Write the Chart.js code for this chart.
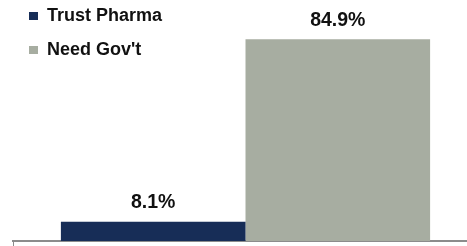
<!DOCTYPE html>
<html>
<head>
<meta charset="utf-8">
<script src="https://cdn.jsdelivr.net/npm/chart.js@4/dist/chart.umd.min.js"></script>
<style>
  html, body { margin: 0; padding: 0; background: #ffffff; overflow: hidden; width: 467px; height: 246px; }
  #wrap { position: relative; width: 478px; height: 246px; }
</style>
</head>
<body>
<div id="wrap"><canvas id="c"></canvas></div>
<script>
// ---- data ----
const categories = [''];
const seriesNames = ['Trust Pharma', "Need Gov't"];
const trustPharma = [8.1];
const needGov = [84.9];
const seriesColors = ['#172d57', '#a7ada1'];

Chart.defaults.font.family = "'Liberation Sans', Arial, sans-serif";

const valueLabels = {
  id: 'valueLabels',
  afterDatasetsDraw(chart) {
    const ctx = chart.ctx;
    chart.data.datasets.forEach((ds, i) => {
      const meta = chart.getDatasetMeta(i);
      meta.data.forEach((bar, j) => {
        const v = ds.data[j];
        if (v == null) return;
        ctx.save();
        ctx.font = "bold 19.5px 'Liberation Sans', Arial, sans-serif";
        ctx.fillStyle = '#111111';
        ctx.textAlign = 'center';
        ctx.textBaseline = 'alphabetic';
        ctx.fillText(v.toFixed(1) + '%', bar.x, bar.y - 13.5);
        ctx.restore();
      });
    });
  }
};

new Chart(document.getElementById('c'), {
  type: 'bar',
  data: {
    labels: categories,
    datasets: [
      { label: seriesNames[0], data: trustPharma, backgroundColor: seriesColors[0], borderWidth: 0 },
      { label: seriesNames[1], data: needGov, backgroundColor: seriesColors[1], borderWidth: 0 }
    ]
  },
  options: {
    responsive: true,
    maintainAspectRatio: false,
    animation: false,
    layout: { padding: { left: 13, right: 0, top: 0, bottom: 0 } },
    datasets: { bar: { categoryPercentage: 0.794, barPercentage: 1.0 } },
    scales: {
      x: {
        z: 1,
        ticks: { display: false },
        grid: { offset: true, drawOnChartArea: false, drawTicks: true, tickLength: 5, color: '#8c8c8c', lineWidth: 1 },
        border: { display: true, color: '#8c8c8c', width: 2 }
      },
      y: {
        display: false,
        min: 0,
        max: 101.45
      }
    },
    plugins: {
      tooltip: { enabled: false },
      legend: {
        position: 'chartArea',
        align: 'start',
        title: { display: true, text: ' ', font: { size: 1, lineHeight: 1 }, padding: { top: -10, bottom: 0 } },
        labels: {
          boxWidth: 9,
          boxHeight: 8,
          padding: 16,
          color: '#111111',
          font: { size: 18, weight: 'bold' }
        }
      }
    }
  },
  plugins: [valueLabels]
});
</script>
</body>
</html>
